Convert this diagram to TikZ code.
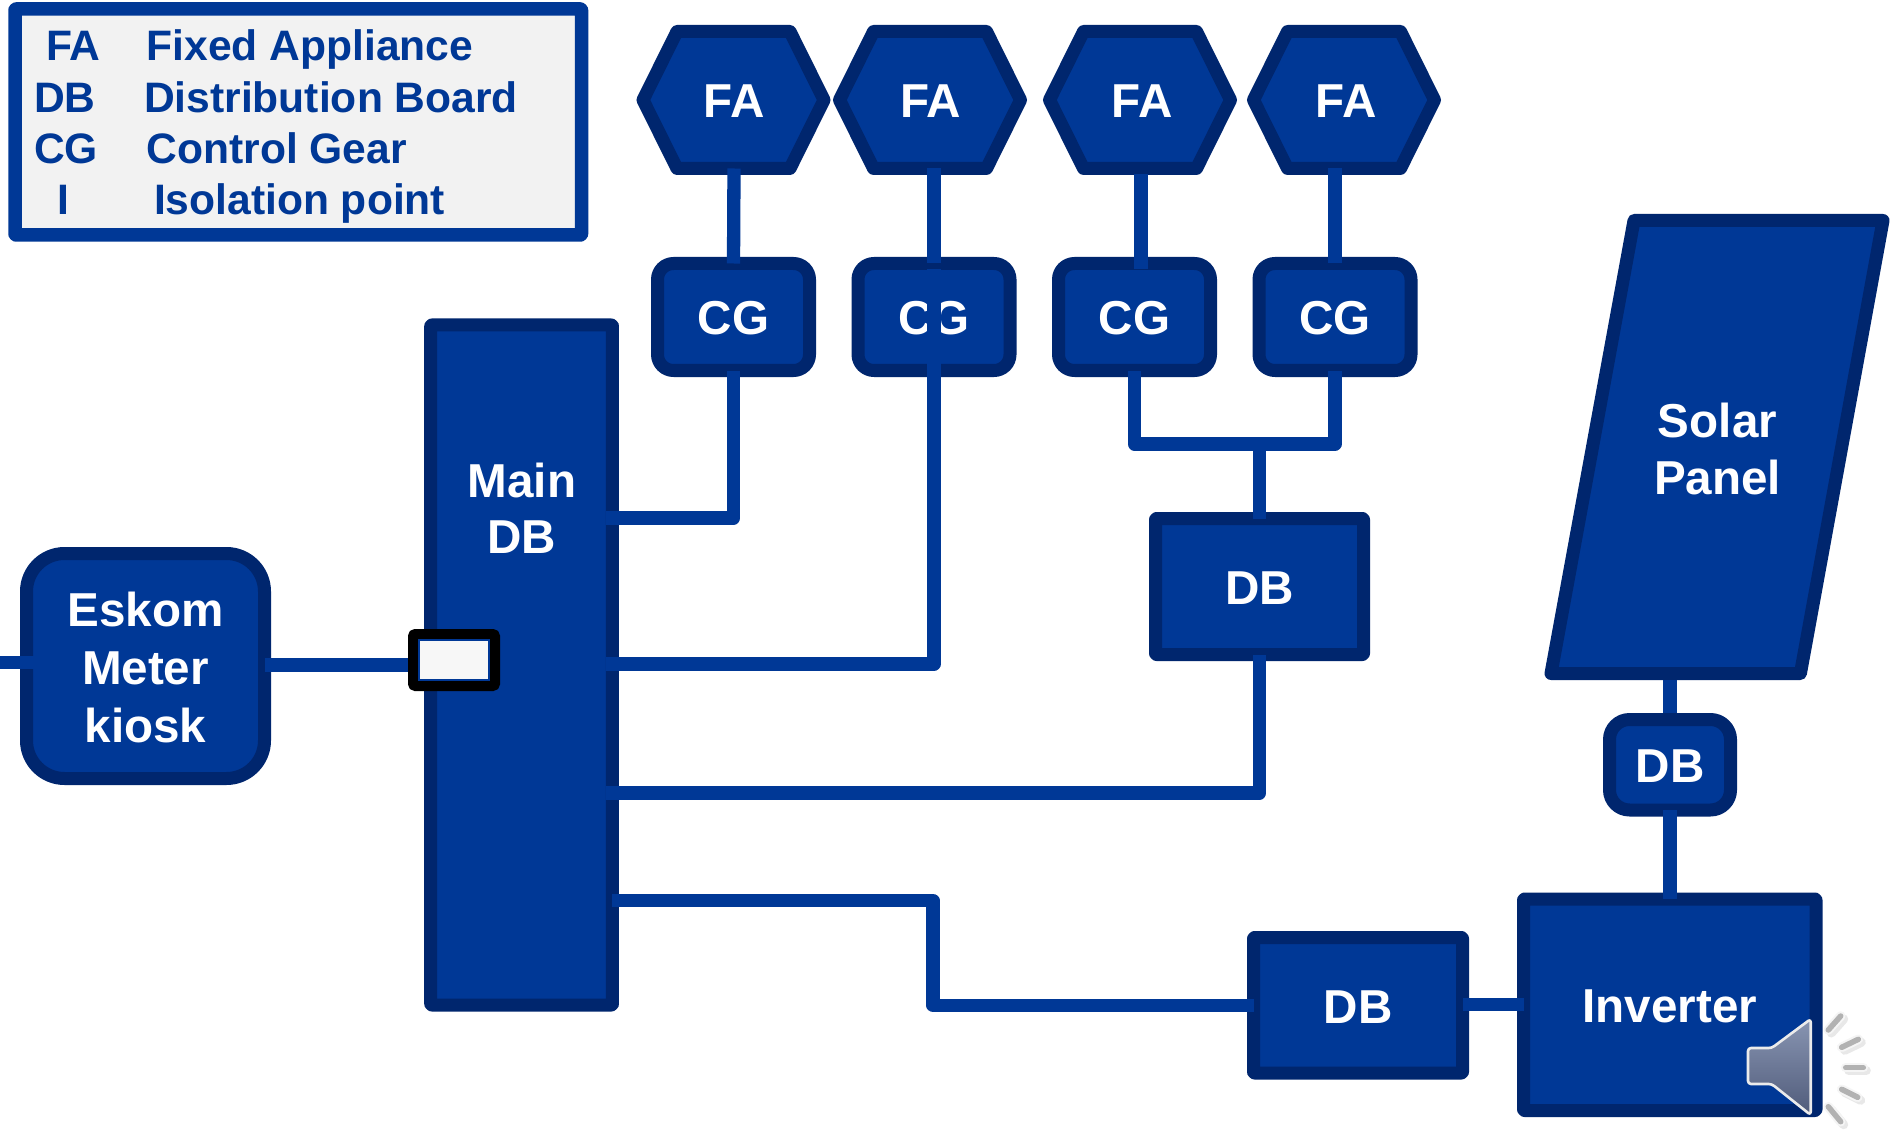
\documentclass[tikz,border=0pt]{standalone}
\usepackage{fontspec}
\setmainfont{Liberation Sans}
\usetikzlibrary{calc}
\definecolor{fillblue}{HTML}{003896}
\definecolor{edgeblue}{HTML}{00266E}
\definecolor{legendbg}{HTML}{F2F2F2}
\definecolor{speakertop}{RGB}{136,149,178}
\definecolor{speakerbot}{RGB}{80,91,122}
\pgfdeclarelayer{toplayer}
\pgfsetlayers{main,toplayer}
\tikzset{
  boxbase/.style={draw=edgeblue,fill=fillblue,line width=13pt,line join=round,inner sep=0pt,outer sep=0pt,text=white,font=\fontsize{47.6}{58}\selectfont\bfseries,align=center},
  oneline/.style={text height=36pt,text depth=0pt},
  sqbox/.style={boxbase,rounded corners=1pt},
  cgbox/.style={boxbase,oneline,rounded corners=16pt,minimum width=152pt,minimum height=107pt},
  shapepath/.style={draw=edgeblue,fill=fillblue,line width=13pt,line join=round},
  shapetext/.style={inner sep=0pt,outer sep=0pt,text=white,font=\fontsize{47.6}{58}\selectfont\bfseries,align=center},
  wire/.style={draw=fillblue,line width=13.3pt,line join=round,line cap=butt},
  legendtext/.style={inner sep=0pt,outer sep=0pt,anchor=base west,text=fillblue,font=\fontsize{42.6}{50}\selectfont\bfseries},
  raygray/.style={draw=black!30,line width=5.5pt,line cap=round},
  raywhite/.style={draw=white!96!black,line width=9.5pt,line cap=round},
  rayshadow/.style={draw=black!25,opacity=.35,line width=9pt,line cap=round},
}
\newcommand{\hexnode}[3]{%
  \draw[shapepath] ({#2-90.5},100) -- ({#2-56.5},31.5) -- ({#2+56.5},31.5) -- ({#2+90.5},100) -- ({#2+56.5},168.5) -- ({#2-56.5},168.5) -- cycle;
  \node[shapetext,oneline,minimum width=181pt,minimum height=137pt] (#1) at (#3,100) {FA};
}
\begin{document}
\begin{tikzpicture}[x=1pt,y=-1pt]
\useasboundingbox (0,0) rectangle (1892,1131);
\fill[white] (0,0) rectangle (1892,1131);

% legend
\node[draw=fillblue,fill=legendbg,line width=13.5pt,line join=round,rounded corners=1pt,inner sep=0pt,outer sep=0pt,minimum width=566.5pt,minimum height=226pt] (legend) at (298.25,122) {};
\node[legendtext] (lfa) at (46,61) {FA};
\node[legendtext] (lfat) at (146.5,61) {Fixed Appliance};
\node[legendtext] (ldb) at (34,113) {DB};
\node[legendtext] (ldbt) at (144,113) {Distribution Board};
\node[legendtext] (lcg) at (34,164) {CG};
\node[legendtext] (lcgt) at (146.5,164) {Control Gear};
\node[legendtext] (li) at (57,214.5) {I};
\node[legendtext] (lit) at (154,214.5) {Isolation point};

% appliances
\hexnode{hexa}{733.5}{734}
\hexnode{hexb}{930}{930.5}
\hexnode{hexc}{1140}{1142}
\hexnode{hexd}{1344}{1346}

% control gear
\node[cgbox] (cga) at (733.5,317) {CG};
\node[cgbox] (cgb) at (934,317) {CG};
\node[cgbox] (cgc) at (1134.5,317) {CG};
\node[cgbox] (cgd) at (1335,317) {CG};

% boxes
\node[sqbox,minimum width=181.75pt,minimum height=680pt] (main) at (521.6,665) {};
\node[shapetext] (mainlabel) at (522,508) {Main\\[-2pt]DB};
\node[boxbase,rounded corners=38pt,minimum width=238pt,minimum height=225pt] (eskom) at (145.5,666) {\rule{0pt}{38pt}Eskom\\Meter\\kiosk};
\node[sqbox,oneline,minimum width=208pt,minimum height=136pt] (dba) at (1259.5,586.5) {DB};
\node[sqbox,oneline,minimum width=209pt,minimum height=135.5pt] (dbb) at (1358,1005.25) {DB};
\node[sqbox,oneline,minimum width=292.5pt,minimum height=211.5pt] (inverter) at (1669.75,1004.75) {Inverter};
\node[boxbase,oneline,rounded corners=20pt,minimum width=121pt,minimum height=90.5pt] (dbc) at (1670,764.75) {DB};

% solar panel
\draw[shapepath] (1634,220.5) -- (1883,220.5) -- (1800.4,673.5) -- (1551,673.5) -- cycle;
\node[shapetext,minimum width=200pt,minimum height=453pt] (solar) at (1717.5,447) {\rule{0pt}{38pt}Solar\\[-1.5pt]Panel};

% isolation point (kept above the wire that enters it)
\begin{pgfonlayer}{toplayer}
\node[draw=black,fill=fillblue,line width=11pt,line join=round,rounded corners=1pt,inner sep=0pt,outer sep=0pt,minimum width=81pt,minimum height=51pt] (iso) at (454,660) {};
\node[fill=legendbg!60!white,draw=fillblue,line width=1.2pt,inner sep=0pt,outer sep=0pt,minimum width=70pt,minimum height=40pt] (isoinner) at (iso.center) {};
\end{pgfonlayer}

% free wire ends
\coordinate (grid) at (0,662.7);
\coordinate (ma) at (606,518);
\coordinate (mb) at (606,664);
\coordinate (mc) at (606,793);
\coordinate (md) at (612,900.7);
\coordinate (jog) at (933,950);
\coordinate (tee) at (1259.5,444);

% connectors
\draw[wire] (hexa.south) -- (cga.north);
\draw[wire] (hexb.south -| cgb.north) -- (cgb.north);
\draw[wire] ([xshift=-1pt,yshift=-6pt]hexc.south) -- ([xshift=-1pt,yshift=-5.5pt]hexc.south |- cgc.north);
\draw[wire] (cgd.north |- hexd.south) -- (cgd.north);
\draw[wire] (ma) -| (cga.south);
\draw[wire] (mb) -| ([yshift=-6pt]cgb.north);
\draw[wire] (mc) -| (dba.south);
\draw[wire] (md) -- (md -| jog) -- (jog |- dbb.west) -- (dbb.west);
\draw[wire] (cgc.south) |- (tee) -| (cgd.south);
\draw[wire] (tee) -- (dba.north);
\draw[wire] ([yshift=-6.5pt]dbc.north |- solar.south) -- ([yshift=6.5pt]dbc.north);
\draw[wire] (dbc.south) -- (dbc.south |- inverter.north);
\draw[wire] (dbb.east |- inverter.west) -- (inverter.west);
\draw[wire] (grid) -- ([xshift=7pt]grid -| eskom.west);
\draw[wire] (eskom.east |- 0,665) -- (iso.west |- 0,665);

% loudspeaker icon
\foreach \ax/\ay/\bx/\by in {1828.3/1030/1840.7/1016,1841.7/1047.3/1858.3/1039.3,1845.7/1067.7/1863.3/1067.7,1841.7/1089.3/1857.7/1097.3,1828.3/1106.7/1840.7/1121.7}{
  \draw[rayshadow] ({\ax+3},{\ay+3}) -- ({\bx+3},{\by+3});
  \draw[raywhite] (\ax,\ay) -- (\bx,\by);
  \draw[raygray] (\ax,\ay) -- (\bx,\by);
}
\draw[draw=white!92!black,line width=2.6pt,line join=round,rounded corners=3pt,top color=speakertop,bottom color=speakerbot]
  (1748,1048) -- (1771.7,1048) -- (1810.7,1019) -- (1810.7,1115) -- (1771.7,1084) -- (1748,1084) -- cycle;
\end{tikzpicture}
\end{document}
